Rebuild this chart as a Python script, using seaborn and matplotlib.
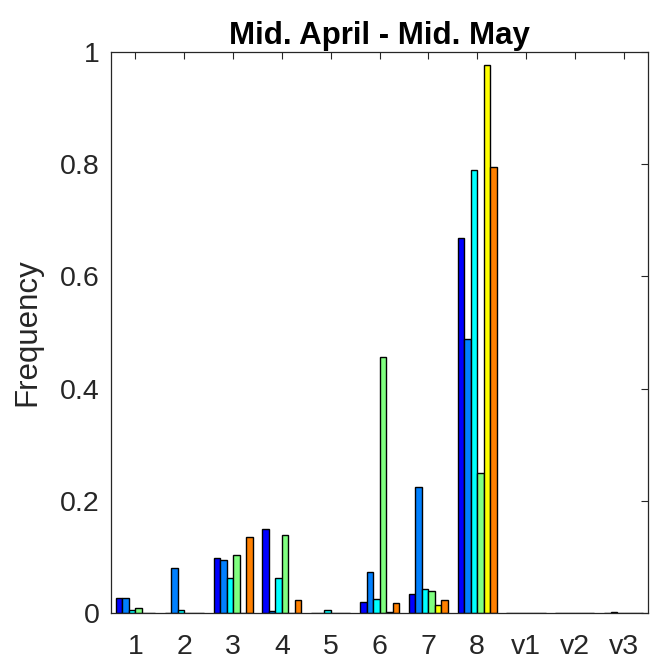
import matplotlib
matplotlib.use("Agg")
import matplotlib.pyplot as plt
import seaborn as sns
import pandas as pd

# Categories on the x axis
categories = ["1", "2", "3", "4", "5", "6", "7", "8", "v1", "v2", "v3"]

# Frequency of each category for six series
series_names = ["S1", "S2", "S3", "S4", "S5", "S6"]
s1 = [0.026, 0.0, 0.098, 0.149, 0.0, 0.020, 0.034, 0.668, 0.0, 0.0, 0.0]
s2 = [0.026, 0.081, 0.094, 0.004, 0.0, 0.073, 0.224, 0.489, 0.0, 0.0, 0.002]
s3 = [0.005, 0.005, 0.062, 0.063, 0.005, 0.025, 0.042, 0.789, 0.0, 0.0, 0.0]
s4 = [0.009, 0.0, 0.104, 0.139, 0.0, 0.457, 0.040, 0.250, 0.0, 0.0, 0.0]
s5 = [0.0, 0.0, 0.0, 0.0, 0.0, 0.002, 0.014, 0.977, 0.0, 0.0, 0.0]
s6 = [0.0, 0.0, 0.135, 0.024, 0.0, 0.017, 0.024, 0.795, 0.0, 0.0, 0.0]

yticks = [0, 0.2, 0.4, 0.6, 0.8, 1]
ytick_labels = ["0", "0.2", "0.4", "0.6", "0.8", "1"]

colors = ["#0000ff", "#0080ff", "#00ffff", "#80ff80", "#ffff00", "#ff8000"]

rows = []
for name, vals in zip(series_names, [s1, s2, s3, s4, s5, s6]):
    for cat, v in zip(categories, vals):
        rows.append({"category": cat, "series": name, "value": v})
df = pd.DataFrame(rows)

sns.set_style("white")
plt.rcParams["font.family"] = ["Liberation Sans", "DejaVu Sans"]

fig = plt.figure(figsize=(6.51, 6.62), dpi=100)
ax = fig.add_axes([0.1705, 0.074, 0.825, 0.8475])

sns.barplot(data=df, x="category", y="value", hue="series",
            order=categories, hue_order=series_names,
            palette=colors, saturation=1, width=0.8,
            edgecolor="black", linewidth=1.0,
            errorbar=None, legend=False, ax=ax)

ax.set_xlim(-0.5, len(categories) - 0.5)
ax.set_ylim(0, 1)
ax.set_yticks(yticks)
ax.set_yticklabels(ytick_labels)
ax.set_xlabel("")
ax.set_ylabel("Frequency", fontsize=22.5, color="#262626")
ax.yaxis.set_label_coords(-0.128, 0.5)
ax.set_title("Mid. April - Mid. May", fontsize=22.5, fontweight="bold",
             color="black", pad=6)

ax.tick_params(axis="both", direction="in", top=True, right=True,
               length=5, width=0.8, labelsize=20.5, colors="#262626",
               labelcolor="#262626")
ax.tick_params(axis="y", pad=8)
ax.tick_params(axis="x", pad=15)
for sp in ax.spines.values():
    sp.set_visible(True)
    sp.set_color("#262626")
    sp.set_linewidth(0.9)

fig.savefig("out.png", dpi=100)
